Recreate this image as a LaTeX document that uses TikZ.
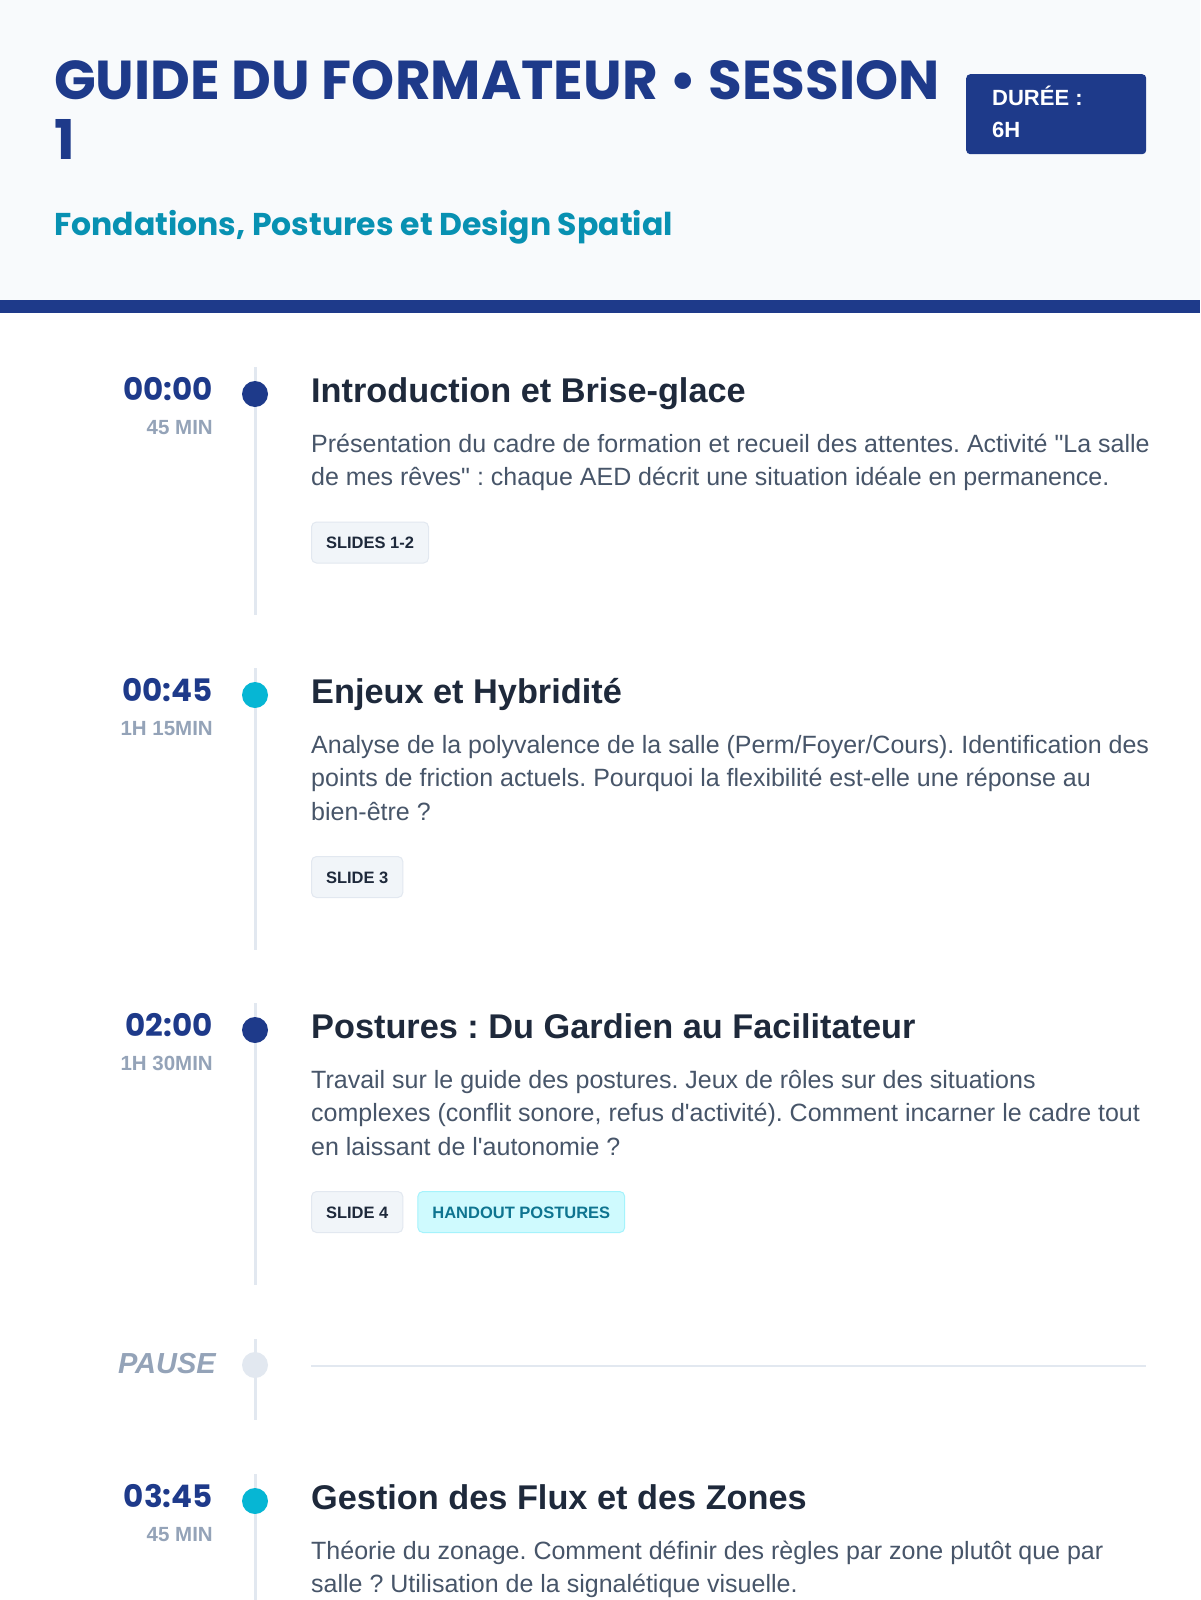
\documentclass[tikz,border=0pt]{standalone}
\usepackage{fontspec}
\setmainfont{Liberation Sans}[Ligatures=TeXOff]
\newfontfamily\popfont{Poppins}
\frenchspacing
\definecolor{navy}{HTML}{1E3A8A}
\definecolor{teal}{HTML}{0891B2}
\definecolor{cyandot}{HTML}{06B6D4}
\definecolor{hdrbg}{HTML}{F8FAFC}
\definecolor{ink}{HTML}{1E293B}
\definecolor{slate}{HTML}{475569}
\definecolor{muted}{HTML}{94A3B8}
\definecolor{rule}{HTML}{E2E8F0}
\definecolor{badgebg}{HTML}{F1F5F9}
\definecolor{cyanbg}{HTML}{CFFAFE}
\definecolor{cyanbd}{HTML}{A5F3FC}
\definecolor{cyantx}{HTML}{0E7490}
\begin{document}
\frenchspacing
\begin{tikzpicture}[x=1pt,y=-1pt,
  timelab/.style={anchor=base east, inner sep=0pt, font=\popfont\bfseries\fontsize{31}{31}\selectfont, text=navy},
  durlab/.style={anchor=base east, inner sep=0pt, font=\bfseries\fontsize{20.5}{20.5}\selectfont, text=muted},
  itemtitle/.style={anchor=base west, inner sep=0pt, font=\bfseries\fontsize{34.3}{34.3}\selectfont, text=ink},
  descline/.style={anchor=base west, inner sep=0pt, font=\fontsize{25}{25}\selectfont, text=slate},
  badge/.style={draw=rule, fill=badgebg, rounded corners=5pt, line width=1pt, inner xsep=14.5pt, inner ysep=0pt, minimum height=41pt, text height=12pt, text depth=0pt, font=\bfseries\fontsize{16.5}{16.5}\selectfont, text=ink, anchor=north west},
  cyanbadge/.style={badge, draw=cyanbd, fill=cyanbg, text=cyantx},
  tline/.style={draw=rule, line width=3pt},
  dotnode/.style={circle, minimum size=26pt, inner sep=0pt, draw=none}
]
\useasboundingbox (0,0) rectangle (1200,1600);
\fill[white] (0,0) rectangle (1200,1600);
\fill[hdrbg] (0,0) rectangle (1200,300);
\fill[navy] (0,300) rectangle (1200,313);

% header
\node[anchor=base west, inner sep=0pt, font=\popfont\bfseries\fontsize{54.8}{54.8}\selectfont, text=navy] (title1) at (54,100) {GUIDE DU FORMATEUR • SESSION};
\node[anchor=base west, inner sep=0pt, font=\popfont\bfseries\fontsize{54.8}{54.8}\selectfont, text=navy] (title2) at (54,160) {1};
\node[anchor=base west, inner sep=0pt, font=\popfont\bfseries\fontsize{31.5}{31.5}\selectfont, text=teal] (subtitle) at (54,235) {Fondations, Postures et Design Spatial};
\node[anchor=north west, fill=navy, rounded corners=4pt, minimum width=180pt, minimum height=80pt, inner sep=0pt] (durbox) at (966,74) {};
\node[anchor=base west, inner sep=0pt, font=\bfseries\fontsize{22}{22}\selectfont, text=white] (durA) at (992,106) {DURÉE :};
\node[anchor=base west, inner sep=0pt, font=\bfseries\fontsize{22}{22}\selectfont, text=white] (durB) at (992,138) {6H};

% timeline segments
\coordinate (s1a) at (255,367);  \coordinate (s1b) at (255,615);
\coordinate (s2a) at (255,668);  \coordinate (s2b) at (255,950);
\coordinate (s3a) at (255,1003); \coordinate (s3b) at (255,1285);
\coordinate (s4a) at (255,1339); \coordinate (s4b) at (255,1420);
\coordinate (s5a) at (255,1474); \coordinate (s5b) at (255,1600);
\draw[tline] (s1a) -- (s1b);
\draw[tline] (s2a) -- (s2b);
\draw[tline] (s3a) -- (s3b);
\draw[tline] (s4a) -- (s4b);
\draw[tline] (s5a) -- (s5b);

% item 1
\node[dotnode, fill=navy] (d1) at (255,394) {};
\node[timelab] (t1) at (213,400.5) {00:00};
\node[durlab] (u1) at (213,434) {45 MIN};
\node[itemtitle] (h1) at (311,402) {Introduction et Brise-glace};
\node[descline] (p1a) at (311,452) {Présentation du cadre de formation et recueil des attentes. Activité "La salle};
\node[descline] (p1b) at (311,485.5) {de mes rêves" : chaque AED décrit une situation idéale en permanence.};
\node[badge] (b1) at (311,521.5) {SLIDES 1-2};

% item 2
\node[dotnode, fill=cyandot] (d2) at (255,695) {};
\node[timelab] (t2) at (213,701.5) {00:45};
\node[durlab] (u2) at (213,735) {1H 15MIN};
\node[itemtitle] (h2) at (311,703) {Enjeux et Hybridité};
\node[descline] (p2a) at (311,753) {Analyse de la polyvalence de la salle (Perm/Foyer/Cours). Identification des};
\node[descline] (p2b) at (311,786.5) {points de friction actuels. Pourquoi la flexibilité est-elle une réponse au};
\node[descline] (p2c) at (311,820) {bien-être ?};
\node[badge] (b2) at (311,856) {SLIDE 3};

% item 3
\node[dotnode, fill=navy] (d3) at (255,1030) {};
\node[timelab] (t3) at (213,1036.5) {02:00};
\node[durlab] (u3) at (213,1070) {1H 30MIN};
\node[itemtitle] (h3) at (311,1038) {Postures : Du Gardien au Facilitateur};
\node[descline] (p3a) at (311,1088) {Travail sur le guide des postures. Jeux de rôles sur des situations};
\node[descline] (p3b) at (311,1121.5) {complexes (conflit sonore, refus d'activité). Comment incarner le cadre tout};
\node[descline] (p3c) at (311,1155) {en laissant de l'autonomie ?};
\node[badge] (b3a) at (311,1191) {SLIDE 4};
\node[cyanbadge] (b3b) at ([xshift=14pt]b3a.north east) {HANDOUT POSTURES};

% pause
\node[dotnode, fill=rule] (d4) at (255,1365) {};
\node[anchor=base east, inner sep=0pt, font=\bfseries\itshape\fontsize{29}{29}\selectfont, text=muted] (pause) at (216,1373) {PAUSE};
\coordinate (pl) at (311,1366); \coordinate (pr) at (1146,1366);
\draw[draw=rule, line width=2pt] (pl) -- (pr);

% item 5
\node[dotnode, fill=cyandot] (d5) at (255,1501) {};
\node[timelab] (t5) at (213,1507.5) {03:45};
\node[durlab] (u5) at (213,1541) {45 MIN};
\node[itemtitle] (h5) at (311,1509) {Gestion des Flux et des Zones};
\node[descline] (p5a) at (311,1559) {Théorie du zonage. Comment définir des règles par zone plutôt que par};
\node[descline] (p5b) at (311,1592.5) {salle ? Utilisation de la signalétique visuelle.};
\end{tikzpicture}
\end{document}
